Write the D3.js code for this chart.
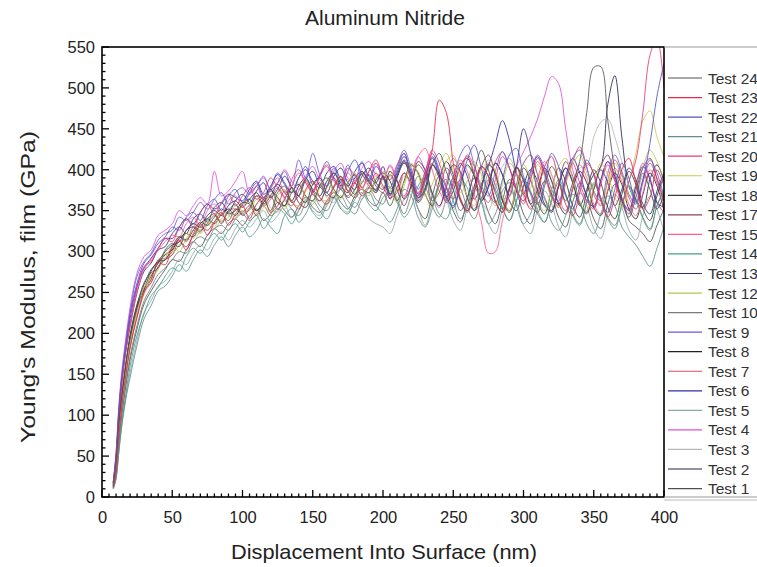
<!DOCTYPE html>
<html><head><meta charset="utf-8">
<script src="https://cdn.jsdelivr.net/npm/d3@7"></script>
<style>
html,body{margin:0;padding:0;background:#fff;}
svg{display:block;font-family:"Liberation Sans",Arial,sans-serif;}
</style></head>
<body><svg id="chart" width="757" height="567"></svg>
<script>
const displacement = [8,10,12,14,17,20,25,30,35,40,45,50,55,60,65,70,75,80,85,90,95,100,105,110,115,120,125,130,135,140,145,150,155,160,165,170,175,180,185,190,195,200,205,210,215,220,225,230,235,240,245,250,255,260,265,270,275,280,285,290,295,300,305,310,315,320,325,330,335,340,345,350,355,360,365,370,375,380,385,390,395,400];

const test24 = [14,40,90,125,165, 194,234,262,274,280,302,310,306,326,330,324,340,346,334,350,358,344, 352,368,364,350,372,380,360,368,388,374,362,380,396,384,366,376,398,386,372,392, 370,392,410,386,360,374,406,420,398,376,350,366,398,424,400,372,352,376,404,386, 358,348,380,404,388,362,384,410,470,525,526,460,400,362,342,366,396,376,352,370];
const test23 = [12,30,75,110,150, 182,220,250,266,286,284,304,314,302,322,334,320,336,348,332,346,356, 340,358,366,348,356,374,362,352,376,386,366,358,380,392,374,384,368,378,396,380, 366,372,396,384,368,392,424,485,470,408,366,350,372,404,392,360,348,378,404,372, 352,370,404,416,386,358,344,372,408,396,364,342,366,400,414,384,352,366,400,380];
const test22 = [18,50,105,145,185, 224,262,286,296,310,318,330,326,342,348,338,356,364,350,368,376,360, 372,384,366,378,396,384,372,390,404,382,394,410,390,376,398,412,394,386,404,390, 368,400,420,392,366,388,416,398,366,356,384,412,430,402,372,360,388,418,426,392, 372,358,386,420,404,370,352,380,412,394,362,348,376,408,390,360,388,432,490,530];
const test21 = [10,22,55,85,120, 146,186,218,234,252,258,270,284,276,290,302,294,308,318,306,320,330, 318,326,340,330,322,344,352,336,346,362,350,340,356,368,354,346,364,372,356,346, 336,352,376,368,342,330,352,380,388,362,340,356,378,360,334,346,374,384,356,334, 346,372,364,336,326,344,370,360,334,322,346,368,356,330,318,308,294,282,304,330];
const test20 = [16,45,100,140,180, 212,256,282,288,304,316,312,330,340,330,348,358,346,360,370,356,368, 378,364,372,390,378,366,388,400,384,372,392,406,388,380,402,392,378,398,412,394, 388,406,420,392,372,396,424,408,380,364,390,418,404,374,360,388,416,402,376,362, 388,414,398,368,356,386,408,384,362,352,382,406,386,360,386,412,470,540,560,500];
const test19 = [13,32,78,112,152, 188,224,256,268,278,298,298,308,322,316,332,338,330,348,344,340,356, 360,346,354,370,364,352,372,384,366,358,378,390,372,364,384,396,378,368,390,398, 378,360,380,404,398,370,354,382,410,418,390,368,356,388,412,398,368,350,378,406, 390,362,350,376,404,414,388,362,350,380,408,394,366,354,384,420,460,472,440,416];
const test18 = [15,38,85,120,160, 196,232,254,276,288,290,306,318,314,326,336,332,342,352,346,350,360, 358,350,364,376,360,356,378,368,360,382,390,372,366,388,380,370,392,402,384,376, 398,386,364,380,410,400,372,356,378,406,398,366,350,376,406,396,362,348,374,402, 388,360,346,376,402,386,356,342,372,400,384,354,340,370,398,382,352,338,368,392];
const test17 = [12,33,76,110,150, 184,222,252,262,282,290,296,312,306,320,330,326,336,344,338,352,348, 356,344,360,368,352,364,378,360,354,374,384,368,378,392,374,366,384,394,380,372, 394,376,356,380,406,394,362,372,402,390,362,348,374,404,418,394,364,350,382,408, 418,394,366,350,382,410,392,360,346,376,404,418,388,362,346,374,402,414,388,362];
const test15 = [17,48,100,140,180, 210,252,278,290,302,312,320,318,334,342,332,350,358,346,362,368,356, 370,380,362,376,390,372,380,396,384,374,392,404,386,378,396,384,376,398,408,388, 404,386,366,390,416,426,400,374,362,388,412,398,370,336,298,300,338,368,394,376, 362,390,410,394,366,350,378,406,390,358,346,376,402,386,358,344,372,400,384,356];
const test14 = [10,24,58,90,126, 160,198,224,246,256,270,280,276,294,304,298,312,322,314,326,334,324, 336,344,328,340,352,346,334,350,362,348,340,356,366,352,346,364,372,358,350,366, 374,360,342,354,380,390,368,346,340,364,388,378,350,362,394,382,354,338,362,388, 374,350,336,364,388,370,344,332,360,384,366,340,328,356,380,364,340,326,356,376];
const test13 = [16,46,98,138,178, 208,250,276,286,302,306,322,330,322,340,346,336,354,360,348,362,370, 360,374,384,366,376,392,378,368,388,398,380,372,392,402,384,376,396,388,374,392, 370,392,412,394,366,376,406,394,368,354,380,406,392,362,378,408,394,368,404,450, 420,374,356,350,380,402,384,358,348,376,400,384,356,376,402,388,358,346,374,396];
const test12 = [13,34,80,114,154, 190,230,250,272,280,292,306,300,316,326,322,332,344,338,342,356,350, 350,364,356,348,368,376,360,356,374,384,366,362,380,390,374,368,386,380,372,392, 398,374,384,408,394,368,382,406,420,398,372,386,410,394,370,356,382,408,396,368, 378,406,392,366,354,382,406,418,396,372,358,384,408,392,366,382,404,424,410,388];
const test10 = [11,28,68,100,140, 172,210,240,256,272,280,290,300,298,312,318,314,328,332,326,340,346, 338,346,356,344,350,362,352,344,360,370,356,350,366,376,362,354,370,378,364,358, 378,364,346,368,392,380,356,342,364,390,378,354,340,364,388,376,352,338,362,386, 370,346,336,362,384,368,346,334,360,382,366,342,332,358,380,364,342,328,356,374];
const test9 = [18,52,108,148,190, 226,270,288,298,314,322,326,342,338,348,360,352,364,372,358,372,378, 370,380,392,376,384,398,380,412,390,420,394,380,402,384,406,386,410,388,408,392, 378,404,424,402,376,398,420,400,372,392,418,430,406,380,368,398,422,402,376,362, 394,418,402,376,362,390,414,424,402,374,362,396,418,398,370,358,388,412,396,368];
const test8 = [14,36,82,118,158, 192,232,254,270,286,296,302,316,322,318,334,340,334,346,352,344,358, 364,350,360,374,366,356,372,382,368,362,380,390,376,366,384,394,378,372,388,396, 386,362,386,406,396,370,356,386,410,394,364,350,380,404,392,362,348,376,402,388, 358,376,402,386,358,346,376,398,384,354,344,374,396,382,352,340,370,396,380,350];
const test7 = [13,36,84,118,158, 190,228,256,266,290,292,300,318,312,330,326,334,344,336,350,352,346, 354,368,356,364,378,366,356,374,386,370,362,378,390,376,368,384,394,380,372,390, 370,392,410,392,364,386,408,390,362,380,404,416,396,366,386,410,422,402,378,358, 388,410,394,366,354,388,410,428,404,370,356,388,412,394,366,352,384,408,390,364];
const test6 = [17,47,102,142,182, 218,258,280,292,304,316,316,330,340,334,348,358,352,358,370,366,362, 376,386,370,380,394,382,372,390,400,386,378,396,404,388,380,398,408,392,384,404, 370,396,416,398,370,390,414,394,366,384,408,392,364,382,404,432,460,436,396,370, 398,416,396,370,358,392,414,396,368,354,388,410,392,364,350,380,404,388,360,354];
const test5 = [10,23,56,88,122, 152,192,226,240,258,264,276,290,284,298,308,302,316,324,314,328,338, 330,340,350,336,344,356,342,350,364,350,344,360,368,354,348,360,350,340,334,330, 322,344,364,374,352,332,358,380,364,338,326,354,378,362,334,322,352,376,360,332, 322,352,374,358,330,318,348,372,356,328,316,346,370,354,326,314,344,368,352,324];
const test4 = [18,55,112,152,195, 232,274,294,302,320,326,334,350,344,356,366,358,398,368,374,386,398, 372,380,390,376,384,400,386,376,392,404,388,380,398,408,390,384,402,410,394,388, 406,388,368,392,416,398,370,354,384,414,396,366,352,380,408,394,362,378,404,422, 440,462,490,514,505,450,400,376,362,356,386,410,392,364,352,382,408,390,360,348];
const test3 = [12,31,74,108,148, 184,220,248,262,280,290,296,308,316,312,326,334,328,340,348,342,350, 344,358,368,354,348,366,374,360,354,372,382,366,360,378,388,372,364,384,392,378, 392,366,392,384,360,384,406,396,366,350,378,404,392,362,350,378,404,414,394,366, 354,384,406,388,360,350,380,402,404,440,458,462,440,410,382,362,392,384,358,348];
const test2 = [14,38,86,122,162, 198,236,260,278,288,300,308,312,326,334,330,344,350,344,356,362,354, 364,372,358,368,382,372,362,380,390,376,368,386,396,380,372,390,398,384,376,392, 364,390,408,392,362,378,406,390,360,374,404,414,392,362,380,408,394,362,350,380, 400,386,358,348,380,402,386,356,376,394,404,480,515,440,380,362,354,388,406,386];
const test1 = [11,27,66,98,136, 168,206,236,252,266,278,290,288,302,312,306,320,328,322,334,340,332, 344,352,338,346,360,350,342,356,366,354,348,362,372,360,352,368,376,362,356,372, 356,378,396,380,352,340,368,392,378,350,336,364,390,376,348,334,362,388,374,346, 334,364,386,370,342,330,360,384,368,340,328,358,382,366,338,330,322,312,332,352];

const seriesNames = ["Test 24","Test 23","Test 22","Test 21","Test 20","Test 19","Test 18","Test 17","Test 15","Test 14","Test 13","Test 12","Test 10","Test 9","Test 8","Test 7","Test 6","Test 5","Test 4","Test 3","Test 2","Test 1"];
const seriesValues = [test24,test23,test22,test21,test20,test19,test18,test17,test15,test14,test13,test12,test10,test9,test8,test7,test6,test5,test4,test3,test2,test1];
const seriesColors = ["#555555","#e8284a","#5050c8","#5f8f8f","#e8387a","#c8c850","#3a3a3a","#8a4060","#ff5c8c","#45a085","#30307a","#b4c848","#7a7a7a","#6a5ae0","#222222","#d84868","#2c2cb0","#90a8a8","#e050d8","#b8b8b8","#222250","#505050"];

const yTicks = [0,50,100,150,200,250,300,350,400,450,500,550];
const xTicks = [0,50,100,150,200,250,300,350,400];

const svg = d3.select("#chart");
const L = 102, R = 664, T = 47, B = 497;
const x = d3.scaleLinear().domain([0,400]).range([L,R]);
const y = d3.scaleLinear().domain([0,550]).range([B,T]);

svg.append("defs").append("clipPath").attr("id","clip")
  .append("rect").attr("x",L).attr("y",T).attr("width",R-L).attr("height",B-T);

const line = d3.line().x(d=>x(d[0])).y(d=>y(d[1])).curve(d3.curveCatmullRom.alpha(0.5));
const gLines = svg.append("g").attr("clip-path","url(#clip)");
for (let s = seriesValues.length-1; s >= 0; s--) {
  const vals = seriesValues[s];
  const pts = displacement.slice(0, vals.length).map((d,i)=>[d, vals[i]]);
  gLines.append("path").datum(pts).attr("d",line)
    .attr("fill","none").attr("stroke",seriesColors[s]).attr("stroke-width",1).attr("stroke-opacity",0.85);
}

const axisG = svg.append("g");
const yMinor = d3.range(0,551,10);
axisG.selectAll(".ym").data(yMinor).join("line")
  .attr("x1",L).attr("x2",d=> d%50===0 ? L+7 : L+3.5)
  .attr("y1",d=>y(d)).attr("y2",d=>y(d)).attr("stroke","#000").attr("stroke-width",1.3);
const xMinor = d3.range(0,401,5);
axisG.selectAll(".xm").data(xMinor).join("line")
  .attr("x1",d=>x(d)).attr("x2",d=>x(d))
  .attr("y1",B).attr("y2",d=> d%50===0 ? B-7 : B-3.5).attr("stroke","#000").attr("stroke-width",1.3);

svg.append("rect").attr("x",L).attr("y",T).attr("width",R-L).attr("height",B-T)
  .attr("fill","none").attr("stroke","#000").attr("stroke-width",1.6);

const yAxis = d3.axisLeft(y).tickValues(yTicks).tickSize(0).tickPadding(7);
const gy = svg.append("g").attr("transform",`translate(${L},0)`).call(yAxis);
gy.select(".domain").remove();
gy.selectAll("text").attr("font-size",16.5).attr("fill","#222").attr("font-family","Liberation Sans, Arial, sans-serif");

const xAxis = d3.axisBottom(x).tickValues(xTicks).tickSize(0).tickPadding(14);
const gx = svg.append("g").attr("transform",`translate(0,${B})`).call(xAxis);
gx.select(".domain").remove();
gx.selectAll("text").attr("font-size",16.5).attr("fill","#222").attr("font-family","Liberation Sans, Arial, sans-serif");

svg.append("text").attr("x",385).attr("y",25).attr("text-anchor","middle")
  .attr("font-size",20).attr("fill","#222").attr("textLength",160).attr("lengthAdjust","spacingAndGlyphs").text("Aluminum Nitride");
svg.append("text").attr("x",384).attr("y",559).attr("text-anchor","middle")
  .attr("font-size",21).attr("fill","#222").attr("textLength",306).attr("lengthAdjust","spacingAndGlyphs").text("Displacement Into Surface (nm)");
svg.append("text").attr("transform","translate(35,287) rotate(-90)").attr("text-anchor","middle")
  .attr("font-size",21).attr("fill","#222").attr("textLength",312).attr("lengthAdjust","spacingAndGlyphs").text("Young's Modulus, film (GPa)");

const lg = svg.append("g");
lg.append("line").attr("x1",R).attr("x2",757).attr("y1",T).attr("y2",T).attr("stroke","#999").attr("stroke-width",1);
lg.append("line").attr("x1",R).attr("x2",757).attr("y1",B).attr("y2",B).attr("stroke","#999").attr("stroke-width",1);
lg.append("line").attr("x1",R).attr("x2",757).attr("y1",B+3).attr("y2",B+3).attr("stroke","#bbb").attr("stroke-width",1);
seriesNames.forEach((n,i)=>{
  const yy = 78 + i*19.55;
  lg.append("line").attr("x1",668).attr("x2",702).attr("y1",yy).attr("y2",yy)
    .attr("stroke",seriesColors[i]).attr("stroke-width",1.2);
  lg.append("text").attr("x",708).attr("y",yy+5.5).attr("font-size",15.5).attr("fill","#333").text(n);
});
</script></body></html>
